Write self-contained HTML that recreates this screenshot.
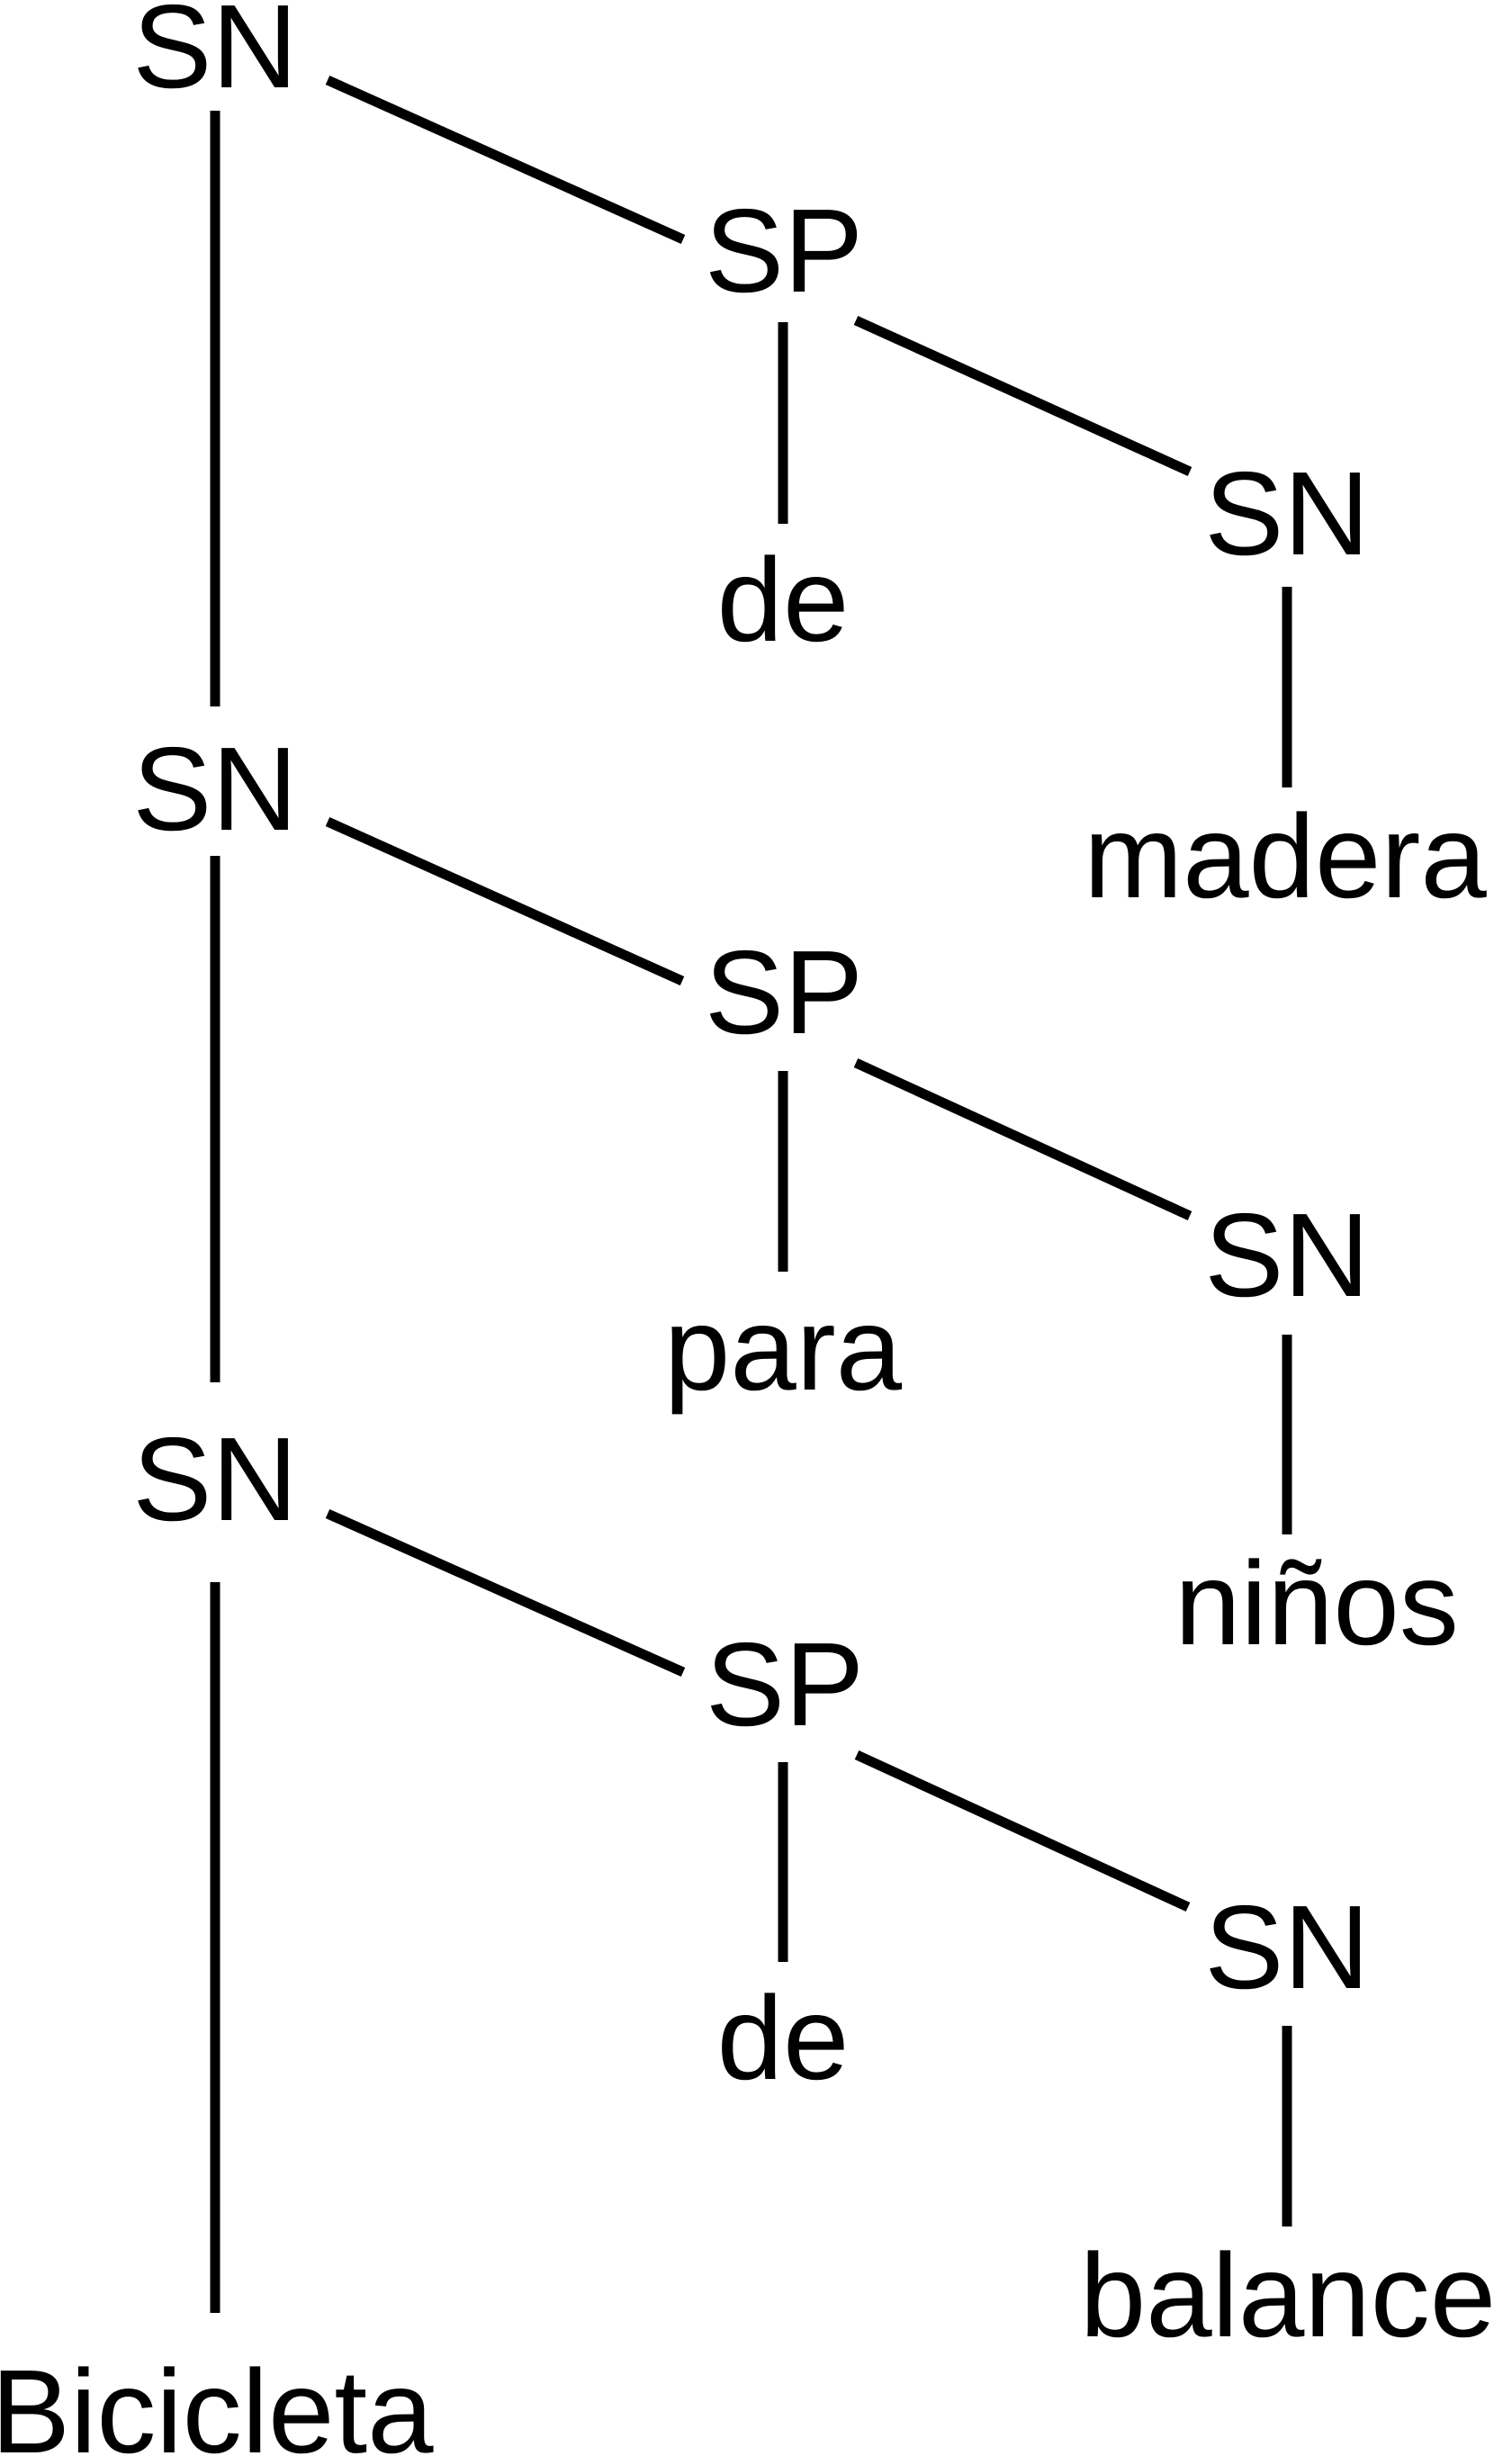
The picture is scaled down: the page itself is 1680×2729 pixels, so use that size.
<!DOCTYPE html>
<html><head><style>html,body{margin:0;padding:0;background:#fff}svg{display:block}</style></head>
<body>
<svg width="1680" height="2729" viewBox="0 0 1680 2729" xmlns="http://www.w3.org/2000/svg">
<g stroke="#000" stroke-width="11" fill="none">
<line x1="239" y1="123" x2="239" y2="785"/>
<line x1="364" y1="89" x2="759" y2="266"/>
<line x1="870" y1="358" x2="870" y2="582"/>
<line x1="951" y1="356" x2="1322" y2="524"/>
<line x1="1430" y1="652" x2="1430" y2="875"/>
<line x1="239" y1="951" x2="239" y2="1536"/>
<line x1="364" y1="913" x2="758" y2="1090"/>
<line x1="870" y1="1190" x2="870" y2="1413"/>
<line x1="951" y1="1181" x2="1322" y2="1351"/>
<line x1="1430" y1="1483" x2="1430" y2="1705"/>
<line x1="239" y1="1758" x2="239" y2="2570"/>
<line x1="364" y1="1682" x2="759" y2="1858"/>
<line x1="870" y1="1958" x2="870" y2="2180"/>
<line x1="952" y1="1950" x2="1320" y2="2119"/>
<line x1="1430" y1="2251" x2="1430" y2="2474"/>
</g>
<g font-family="Liberation Sans, Arial, sans-serif" font-size="132" fill="#000" text-anchor="middle">
<text x="239" y="97">SN</text>
<text x="871" y="324">SP</text>
<text x="870" y="712">de</text>
<text x="1430" y="616">SN</text>
<text x="1428" y="997">madera</text>
<text x="239" y="922">SN</text>
<text x="871" y="1148">SP</text>
<text x="870" y="1544">para</text>
<text x="1430" y="1440">SN</text>
<text x="1463" y="1827">niños</text>
<text x="239" y="1689">SN</text>
<text x="872" y="1917">SP</text>
<text x="870" y="2310">de</text>
<text x="1430" y="2209">SN</text>
<text x="1431" y="2596">balance</text>
<text x="-10" y="2725" text-anchor="start">Bicicleta</text>
</g>
</svg>
</body></html>
